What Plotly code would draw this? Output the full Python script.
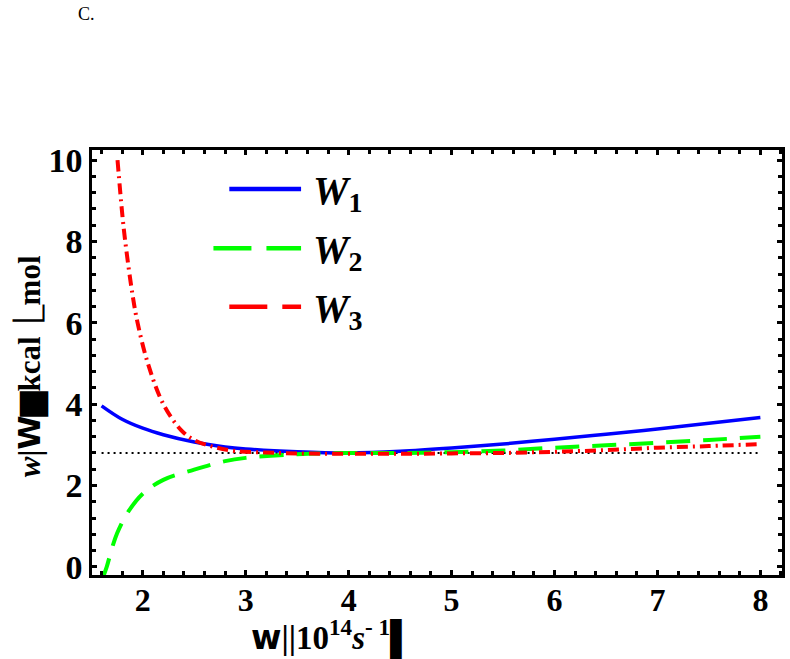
import plotly.graph_objects as go

# ---- data ----
w1_x = [1.6, 1.8, 2.0, 2.2, 2.5, 2.8, 3.0, 3.5, 4.0, 4.5, 5.0, 5.5, 6.0, 6.5, 7.0, 7.5, 8.0]
w1_y = [3.96, 3.63, 3.41, 3.25, 3.07, 2.95, 2.90, 2.83, 2.80, 2.84, 2.92, 3.02, 3.14, 3.26, 3.39, 3.53, 3.67]

w2_x = [1.6, 1.65, 1.7, 1.75, 1.85, 2.0, 2.2, 2.5, 2.8, 3.0, 3.5, 4.0, 4.5, 5.0, 5.5, 6.0, 6.5, 7.0, 7.5, 8.0]
w2_y = [-0.35, 0.0, 0.45, 0.82, 1.32, 1.80, 2.14, 2.39, 2.60, 2.68, 2.77, 2.80, 2.80, 2.82, 2.86, 2.93, 2.99, 3.05, 3.12, 3.20]

w3_x = [1.755, 1.8, 1.83, 1.9, 1.95, 2.05, 2.2, 2.37, 2.49, 2.66, 2.89, 3.2, 3.5, 4.0, 4.5, 5.0, 5.5, 6.0, 6.5, 7.0, 7.5, 8.0]
w3_y = [10.0, 8.7, 8.0, 6.7, 6.0, 5.0, 4.0, 3.37, 3.13, 2.97, 2.85, 2.81, 2.79, 2.78, 2.78, 2.79, 2.80, 2.83, 2.87, 2.93, 2.97, 3.02]

ref_x = [1.6, 8.0]
ref_y = [2.8, 2.8]

x_ticks = [2, 3, 4, 5, 6, 7, 8]
y_ticks = [0, 2, 4, 6, 8, 10]
legend_names = ["<i>W</i><sub>1</sub>", "<i>W</i><sub>2</sub>", "<i>W</i><sub>3</sub>"]

BLUE = "#0000ff"
GREEN = "#00ff00"
RED = "#ff0000"
SERIF = "Liberation Serif"
X_RANGE = [1.507, 8.21]
Y_RANGE = [-0.2, 10.25]

fig = go.Figure()
fig.add_trace(go.Scatter(x=ref_x, y=ref_y, mode="lines",
                         line=dict(color="black", width=2, dash="2px,4px"), showlegend=False))
fig.add_trace(go.Scatter(x=w1_x, y=w1_y, mode="lines", line_shape="spline",
                         line=dict(color=BLUE, width=3.5), showlegend=False))
fig.add_trace(go.Scatter(x=w2_x, y=w2_y, mode="lines", line_shape="spline",
                         line=dict(color=GREEN, width=4, dash="24px,13px"), showlegend=False))
fig.add_trace(go.Scatter(x=w3_x, y=w3_y, mode="lines", line_shape="spline",
                         line=dict(color=RED, width=4, dash="11px,5px,2px,5px"), showlegend=False))

tick_style = dict(ticks="inside", ticklen=5, tickwidth=2.5, tickcolor="black",
                  showgrid=False, zeroline=False)
minor_x = dict(ticks="inside", dtick=0.2, tick0=0, ticklen=4, tickwidth=2.5,
               tickcolor="black", showgrid=False)
minor_y = dict(ticks="inside", dtick=0.4, tick0=0, ticklen=4, tickwidth=2.5,
               tickcolor="black", showgrid=False)

fig.update_layout(
    xaxis=dict(range=X_RANGE, tickvals=x_ticks, ticktext=[str(v) for v in x_ticks],
               showline=True, linecolor="black", linewidth=2.5, mirror=True,
               minor=minor_x, ticklabelstandoff=-5,
               tickfont=dict(family=SERIF, size=32, color="black", weight="bold"), **tick_style),
    yaxis=dict(range=Y_RANGE, tickvals=y_ticks, ticktext=[str(v) for v in y_ticks],
               showline=True, linecolor="black", linewidth=2.5, mirror=True,
               minor=minor_y, ticklabelstandoff=0,
               tickfont=dict(family=SERIF, size=34, color="black", weight="bold"), **tick_style),
    xaxis2=dict(range=X_RANGE, overlaying="x", anchor="y", side="top", matches="x",
                tickvals=x_ticks, showticklabels=False, minor=minor_x, **tick_style),
    yaxis2=dict(range=Y_RANGE, overlaying="y", anchor="x", side="right", matches="y",
                tickvals=y_ticks, showticklabels=False, minor=minor_y, **tick_style),
)
# invisible trace so the mirrored tick axes are drawn
fig.add_trace(go.Scatter(x=ref_x, y=ref_y, xaxis="x2", yaxis="y2", mode="lines",
                         line=dict(width=0, color="rgba(0,0,0,0)"), hoverinfo="skip", showlegend=False))

# ---- legend drawn in paper coordinates ----
legend_rows = [
    (0.199, 0.908, BLUE, "solid"),
    (0.176, 0.769, GREEN, "38px,15px"),
    (0.199, 0.631, RED, "38px,15px"),
]
for (x0, yy, col, dsh), name in zip(legend_rows, legend_names):
    fig.add_shape(type="line", xref="paper", yref="paper", x0=x0, x1=0.303, y0=yy, y1=yy,
                  line=dict(color=col, width=4.5, dash=dsh))
    fig.add_annotation(xref="paper", yref="paper", x=0.318, y=yy - 0.01, xanchor="left", yanchor="middle",
                       text="<b>" + name + "</b>", showarrow=False,
                       font=dict(family=SERIF, size=40, color="black", weight="bold"))

# panel letter
fig.add_annotation(xref="paper", yref="paper", x=(76 - 92) / 693, y=(575 - 14) / 425,
                   xanchor="left", yanchor="middle", text="C.", showarrow=False,
                   font=dict(family=SERIF, size=18, color="black"))

# axis labels (garbled glyphs as in the source)
fig.add_annotation(xref="paper", yref="paper", x=(30 - 92) / 693, y=(575 - 366) / 425,
                   xanchor="center", yanchor="middle", textangle=-90, showarrow=False,
                   text="<b><i>w</i>|<span style='font-family:DejaVu Sans'>W</span>▆kcal⎿mol</b>",
                   font=dict(family=SERIF, size=31, color="black", weight="bold"))
fig.add_annotation(xref="paper", yref="paper", x=(250 - 92) / 693, y=(575 - 636) / 425,
                   xanchor="left", yanchor="middle", showarrow=False,
                   text="<b><span style='font-family:DejaVu Sans'>w</span>||10<sup>14</sup><i>s</i><sup>- 1</sup>▌</b>",
                   font=dict(family=SERIF, size=33, color="black", weight="bold"))

fig.update_layout(width=790, height=659, margin=dict(l=92, r=5, t=150, b=84),
                  plot_bgcolor="white", paper_bgcolor="white", showlegend=False)

fig.write_html("out.html", config={"displayModeBar": False},
               post_script="document.body.style.margin='0';document.body.style.overflow='hidden';")
